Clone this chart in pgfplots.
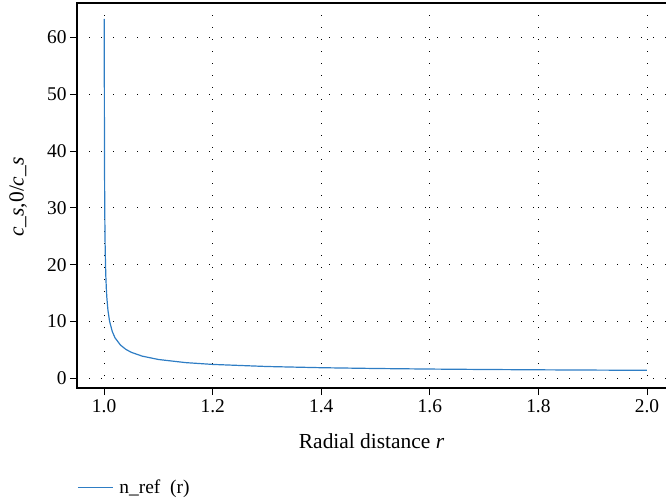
\documentclass[border=0pt]{standalone}
\usepackage{pgfplots}
\pgfplotsset{compat=1.18}
\usepackage{fontspec}
\setmainfont{Liberation Serif}
\definecolor{lineblue}{RGB}{46,125,196}
\begin{document}
\begin{tikzpicture}
\begin{axis}[
  scale only axis, width=597.1bp, height=385bp,
  xmin=0.95, xmax=2.05, ymin=-1.7, ymax=66.05,
  xtick pos=left, ytick pos=left,
  xtick={1.0,1.2,1.4,1.6,1.8,2.0},
  ytick={0,10,20,30,40,50,60},
  tick align=outside, major tick length=7bp,
  tick style={black, line width=0.8bp},
  axis line style={black, line width=1.1bp},
  grid=major,
  major grid style={black, line width=0.9bp, dash pattern=on 1bp off 11bp},
  /pgf/number format/assume math mode=true,
  xticklabel style={/pgf/number format/fixed, /pgf/number format/precision=1, /pgf/number format/fixed zerofill},
  ticklabel style={font=\fontsize{19.5}{22}\selectfont},
  xticklabel style={yshift=-1bp},
  label style={font=\fontsize{21.5}{24}\selectfont},
  xlabel={Radial distance \textit{r}},
  ylabel={\textit{c}\_\textit{s},0/\textit{c}\_\textit{s}},
  xlabel style={at={(axis description cs:0.4933,-0.137)}, anchor=center},
  ylabel style={at={(axis description cs:-0.0986,0.496)}, anchor=center},
  legend style={at={(axis description cs:0,-0.259)}, anchor=west, draw=none, fill=none, inner sep=0pt,
    font=\fontsize{19.5}{22}\selectfont},
  legend image code/.code={\draw[#1, line width=1.2bp] (0bp,0bp) -- (35bp,0bp); \path (39bp,0bp);},
  legend cell align=left,
]
\addplot[lineblue, line width=1.2bp] coordinates {
(1.00025,63.25) (1.0003,57.74) (1.0004,50.01) (1.0005,44.73) (1.0007,37.82)
(1.001,31.64) (1.0015,25.84) (1.002,22.38) (1.003,18.28) (1.004,15.84)
(1.005,14.18) (1.007,11.99) (1.01,10.05) (1.015,8.23) (1.02,7.14)
(1.03,5.86) (1.04,5.10) (1.05,4.58) (1.07,3.91) (1.1,3.317)
(1.15,2.769) (1.2,2.449) (1.3,2.082) (1.4,1.871) (1.5,1.732)
(1.6,1.633) (1.7,1.558) (1.8,1.5) (1.9,1.453) (2.0,1.414)
};
\addlegendentry{n\_ref\ \ (r)}
\coordinate (sw) at (rel axis cs:0,0);
\coordinate (nw) at (rel axis cs:0,1);
\end{axis}
\pgfresetboundingbox
\path ([shift={(-77bp,-112bp)}]sw) rectangle ([shift={(589bp,3bp)}]nw);
\end{tikzpicture}
\end{document}
